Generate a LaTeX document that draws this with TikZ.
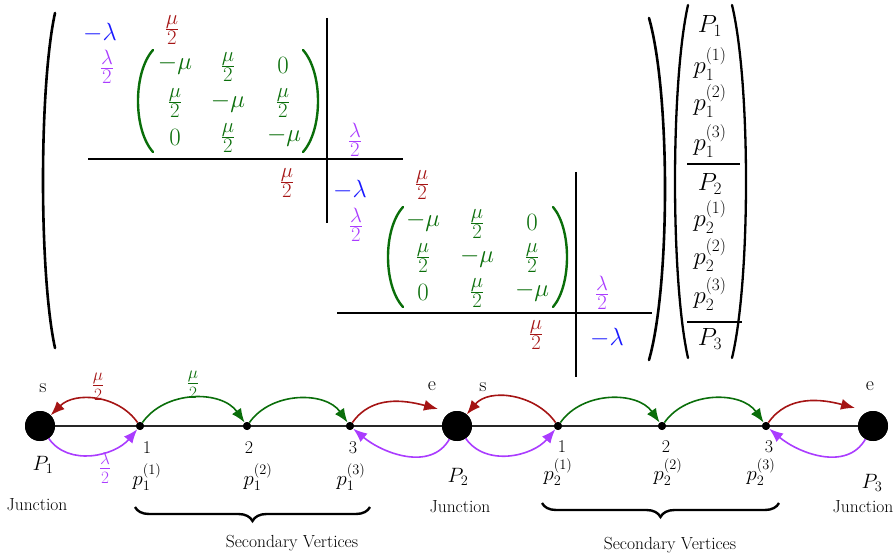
\documentclass[tikz,border=0pt]{standalone}
\usepackage{amsmath}
\usetikzlibrary{arrows.meta,decorations.pathreplacing}
\definecolor{myblue}{RGB}{25,25,255}
\definecolor{myred}{RGB}{165,20,20}
\definecolor{mygreen}{RGB}{10,110,10}
\definecolor{mypurple}{RGB}{170,60,255}
\newcommand\parenshape[6]{%
  \pgfmathsetmacro\parCa{(8*#4-2*#2)/6}%
  \pgfmathsetmacro\parYa{#3-0.22*(#3-#5)}%
  \pgfmathsetmacro\parYb{#5+0.22*(#3-#5)}%
  \draw[#1, line width=#6, line cap=round] (#2,#3) .. controls (\parCa,\parYa) and (\parCa,\parYb) .. (#2,#5);}
\begin{document}
\begin{tikzpicture}[x=1pt,y=1pt,
  mtx/.style={font=\fontsize{26}{30}\selectfont, inner sep=0pt},
  mfr/.style={font=\fontsize{30}{36}\selectfont, inner sep=0pt},
  vec/.style={font=\fontsize{26}{30}\selectfont, inner sep=0pt},
  lab/.style={font=\fontsize{17.5}{21}\selectfont, inner sep=0pt},
  num/.style={font=\fontsize{18}{21}\selectfont, inner sep=0pt},
  plab/.style={font=\fontsize{20}{24}\selectfont, inner sep=0pt},
  se/.style={font=\fontsize{20}{24}\selectfont, inner sep=0pt},
  elab/.style={font=\fontsize{26}{30}\selectfont, inner sep=0pt},
  junc/.style={circle, fill=black, minimum size=30pt, inner sep=0pt},
  sv/.style={circle, fill=black, minimum size=8pt, inner sep=0pt},
  arr/.style={line width=1.6pt, -{Latex[length=14pt,width=11pt]}},
  rule/.style={line width=1.4pt, black}]
\useasboundingbox (0,0) rectangle (896,557);
% ---------- parentheses ----------
\parenshape{black}{55}{544}{43}{209}{2.6pt}
\parenshape{black}{649}{539}{665}{197}{2.6pt}
\parenshape{black}{688}{552}{675}{199}{2.3pt}
\parenshape{black}{732}{552}{746}{199}{2.3pt}
\parenshape{mygreen}{153}{507}{138}{405}{2.4pt}
\parenshape{mygreen}{303}{507}{318}{405}{2.4pt}
\parenshape{mygreen}{403}{350}{388}{250}{2.4pt}
\parenshape{mygreen}{553}{350}{567}{250}{2.4pt}
% ---------- block rules ----------
\coordinate (v1t) at (327,539); \coordinate (v1b) at (327,334);
\coordinate (h1l) at (88,398);  \coordinate (h1r) at (403,398);
\coordinate (v2t) at (576,385); \coordinate (v2b) at (576,180);
\coordinate (h2l) at (337,244); \coordinate (h2r) at (652,244);
\draw[rule] (v1t) -- (v1b);
\draw[rule] (h1l) -- (h1r);
\draw[rule] (v2t) -- (v2b);
\draw[rule] (h2l) -- (h2r);
% ---------- block 1 ----------
\node[mtx, text=myblue] (a11) at (100,524) {$-\lambda$};
\node[mfr, text=myred] (a12) at (172,527) {$\frac{\mu}{2}$};
\node[mfr, text=mypurple] (a21) at (107,490) {$\frac{\lambda}{2}$};
\node[mtx, text=mygreen] (g111) at (175,492) {$-\mu$};
\node[mfr, text=mygreen] (g112) at (228,490) {$\frac{\mu}{2}$};
\node[mtx, text=mygreen] (g113) at (283,492) {$0$};
\node[mfr, text=mygreen] (g121) at (175,454) {$\frac{\mu}{2}$};
\node[mtx, text=mygreen] (g122) at (228,454) {$-\mu$};
\node[mfr, text=mygreen] (g123) at (283,454) {$\frac{\mu}{2}$};
\node[mtx, text=mygreen] (g131) at (175,420) {$0$};
\node[mfr, text=mygreen] (g132) at (228,419) {$\frac{\mu}{2}$};
\node[mtx, text=mygreen] (g133) at (284,420) {$-\mu$};
\node[mfr, text=mypurple] (a15) at (355,417) {$\frac{\lambda}{2}$};
% ---------- block 2 ----------
\node[mfr, text=myred] (b14) at (287,374) {$\frac{\mu}{2}$};
\node[mtx, text=myblue] (b15) at (350,367) {$-\lambda$};
\node[mfr, text=myred] (b16) at (422,372) {$\frac{\mu}{2}$};
\node[mfr, text=mypurple] (b25) at (356,332) {$\frac{\lambda}{2}$};
\node[mtx, text=mygreen] (g211) at (423,335) {$-\mu$};
\node[mfr, text=mygreen] (g212) at (477,333) {$\frac{\mu}{2}$};
\node[mtx, text=mygreen] (g213) at (532,335) {$0$};
\node[mfr, text=mygreen] (g221) at (423,299) {$\frac{\mu}{2}$};
\node[mtx, text=mygreen] (g222) at (477,299) {$-\mu$};
\node[mfr, text=mygreen] (g223) at (532,299) {$\frac{\mu}{2}$};
\node[mtx, text=mygreen] (g231) at (423,265) {$0$};
\node[mfr, text=mygreen] (g232) at (477,264) {$\frac{\mu}{2}$};
\node[mtx, text=mygreen] (g233) at (532,265) {$-\mu$};
\node[mfr, text=mypurple] (b18) at (602,264) {$\frac{\lambda}{2}$};
% ---------- block 3 ----------
\node[mfr, text=myred] (c18) at (536,222) {$\frac{\mu}{2}$};
\node[mtx, text=myblue] (c19) at (607,219) {$-\lambda$};
% ---------- vector ----------
\node[vec] (x1) at (710,531) {$P_1$};
\node[vec] (x2) at (710,493) {$p_1^{(1)}$};
\node[vec] (x3) at (710,456) {$p_1^{(2)}$};
\node[vec] (x4) at (710,416) {$p_1^{(3)}$};
\node[vec] (x5) at (710,373) {$P_2$};
\node[vec] (x6) at (710,340) {$p_2^{(1)}$};
\node[vec] (x7) at (710,302) {$p_2^{(2)}$};
\node[vec] (x8) at (710,263) {$p_2^{(3)}$};
\node[vec] (x9) at (710,218) {$P_3$};
\coordinate (l1l) at (687,393); \coordinate (l1r) at (740,393);
\coordinate (l2l) at (687,235); \coordinate (l2r) at (742,235);
\draw[rule] (l1l) -- (l1r);
\draw[rule] (l2l) -- (l2r);
% ---------- graph ----------
\node[junc] (P1) at (40,131) {};
\node[junc] (P2) at (457,131) {};
\node[junc] (P3) at (873,131) {};
\node[sv] (v11) at (140,131) {};
\node[sv] (v12) at (247,131) {};
\node[sv] (v13) at (350,131) {};
\node[sv] (v21) at (558,131) {};
\node[sv] (v22) at (662,131) {};
\node[sv] (v23) at (766,131) {};
\draw[line width=1.4pt, black!85] (P1.center) -- (P3.center);
\node[junc] at (P1) {};
\node[junc] at (P2) {};
\node[junc] at (P3) {};
\node[sv] at (v11) {};
\node[sv] at (v12) {};
\node[sv] at (v13) {};
\node[sv] at (v21) {};
\node[sv] at (v22) {};
\node[sv] at (v23) {};
\coordinate (e1) at (438,148);
\coordinate (e2) at (855,149);
% arrows segment 1
\draw[arr, myred] (v11) to[out=125,in=45] (P1);
\draw[arr, mygreen] (v11) to[out=55,in=125] (v12);
\draw[arr, mygreen] (v12) to[out=55,in=125] (v13);
\draw[arr, myred] (v13) to[out=55,in=165] (e1);
\draw[arr, mypurple] (P1) to[out=-55,in=-130] (v11);
\draw[arr, mypurple] (P2) to[out=-120,in=-40] (v13);
% arrows segment 2
\draw[arr, myred] (v21) to[out=125,in=50] (P2);
\draw[arr, mygreen] (v21) to[out=55,in=125] (v22);
\draw[arr, mygreen] (v22) to[out=55,in=125] (v23);
\draw[arr, myred] (v23) to[out=55,in=165] (e2);
\draw[arr, mypurple] (P2) to[out=-55,in=-130] (v21);
\draw[arr, mypurple] (P3) to[out=-120,in=-40] (v23);
% edge labels
\node[elab, text=myred] (lr) at (98,170) {$\frac{\mu}{2}$};
\node[elab, text=mygreen] (lg) at (193,172) {$\frac{\mu}{2}$};
\node[elab, text=mypurple] (lp) at (105,89) {$\frac{\lambda}{2}$};
% vertex labels
\node[se] (s1) at (43,169) {s};
\node[se] (e1l) at (432,171) {e};
\node[se] (s2) at (483,170) {s};
\node[se] (e2l) at (870,171) {e};
\node[num] (n11) at (147,109) {1};
\node[num] (n12) at (249,109) {2};
\node[num] (n13) at (353,109) {3};
\node[num] (n21) at (562,110) {1};
\node[num] (n22) at (666,110) {2};
\node[num] (n23) at (769,110) {3};
\node[plab] (tP1) at (43,92) {$P_1$};
\node[plab] (tP2) at (458,80) {$P_2$};
\node[plab] (tP3) at (872,74) {$P_3$};
\node[plab] (t11) at (147,80) {$p_1^{(1)}$};
\node[plab] (t12) at (258,80) {$p_1^{(2)}$};
\node[plab] (t13) at (351,80) {$p_1^{(3)}$};
\node[plab] (t21) at (558,85) {$p_2^{(1)}$};
\node[plab] (t22) at (668,85) {$p_2^{(2)}$};
\node[plab] (t23) at (761,85) {$p_2^{(3)}$};
\node[lab] (j1) at (37,52) {Junction};
\node[lab] (j2) at (460,50) {Junction};
\node[lab] (j3) at (863,50) {Junction};
% braces
\coordinate (b1l) at (135,50); \coordinate (b1r) at (370,50);
\coordinate (b2l) at (542,54); \coordinate (b2r) at (779,54);
\draw[line width=2.4pt, decorate, decoration={brace, amplitude=14pt, mirror}] (b1l) -- (b1r);
\draw[line width=2.4pt, decorate, decoration={brace, amplitude=14pt, mirror}] (b2l) -- (b2r);
\node[lab] (sv1) at (292,14) {Secondary Vertices};
\node[lab] (sv2) at (670,12) {Secondary Vertices};
\end{tikzpicture}
\end{document}
